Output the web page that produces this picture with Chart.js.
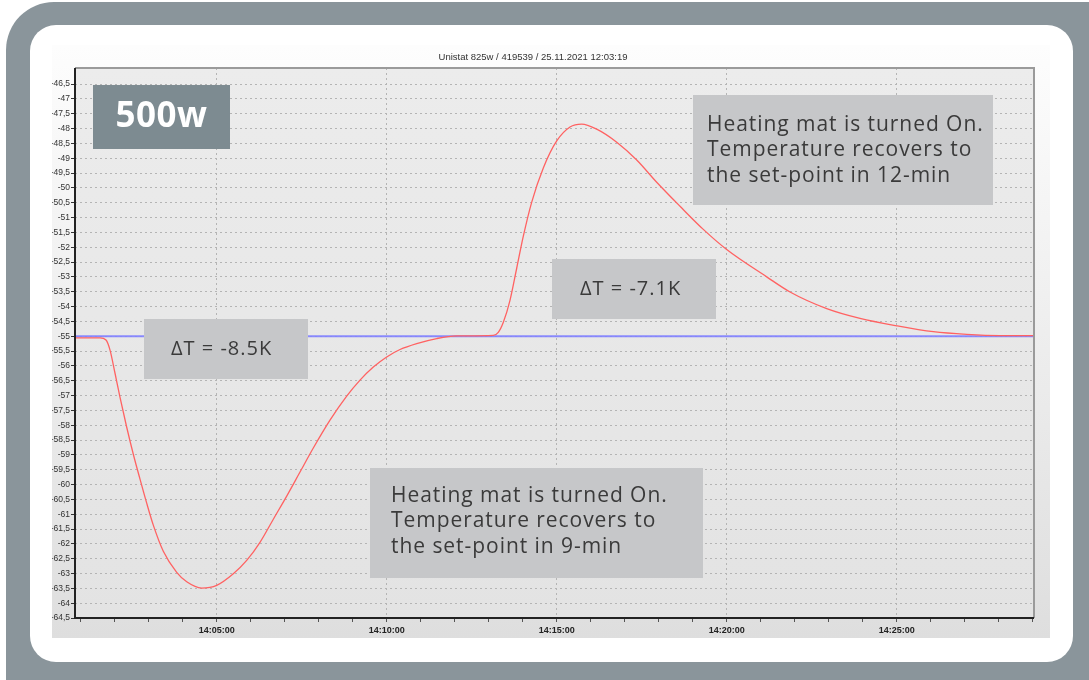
<!DOCTYPE html>
<html>
<head>
<meta charset="utf-8">
<script src="https://cdn.jsdelivr.net/npm/chart.js@4.4.1/dist/chart.umd.min.js"></script>
<style>
html,body{margin:0;padding:0;background:#fff;}
#wrap{position:relative;width:1089px;height:680px;}
</style>
</head>
<body>
<div id="wrap"><canvas id="c" width="1089" height="680"></canvas></div>
<script>
// ---- data (minutes after 14:00:00, temperature °C) ----
const titleText = "Unistat 825w / 419539 / 25.11.2021 12:03:19";
const timeMin = [0.833,1.569,1.745,1.863,2.010,2.157,2.354,2.548,2.745,2.942,3.136,3.430,3.824,4.119,4.560,5.001,5.489,5.883,6.274,6.666,7.060,7.451,7.842,8.333,8.824,9.216,9.607,10.001,10.392,10.883,11.471,12.060,13.136,13.283,13.431,13.627,13.824,14.019,14.266,14.607,15.001,15.392,15.736,16.177,16.766,17.354,17.942,18.627,19.313,19.981,21.177,21.863,22.942,23.922,25.001,26.077,27.059,28.039,29.039];
const tempC = [-55.06,-55.06,-55.13,-55.47,-56.25,-57.06,-58.07,-58.98,-59.82,-60.63,-61.37,-62.25,-62.96,-63.28,-63.49,-63.40,-63.01,-62.56,-61.95,-61.17,-60.39,-59.58,-58.77,-57.83,-57.02,-56.48,-56.04,-55.70,-55.45,-55.25,-55.08,-54.99,-54.97,-54.87,-54.53,-53.79,-52.71,-51.63,-50.48,-49.33,-48.42,-47.95,-47.85,-48.02,-48.46,-49.06,-49.81,-50.62,-51.40,-52.06,-53.00,-53.51,-54.07,-54.40,-54.65,-54.85,-54.94,-54.98,-54.98];
const setpointTime = [0.833, 29.039];
const setpointTemp = [-55, -55];
const xTickMinutes = [1,2,3,4,5,6,7,8,9,10,11,12,13,14,15,16,17,18,19,20,21,22,23,24,25,26,27,28,29];
const xLabelMinutes = [5,10,15,20,25];
const xLabels = ["14:05:00","14:10:00","14:15:00","14:20:00","14:25:00"];
const yTicks = [-64.5,-64,-63.5,-63,-62.5,-62,-61.5,-61,-60.5,-60,-59.5,-59,-58.5,-58,-57.5,-57,-56.5,-56,-55.5,-55,-54.5,-54,-53.5,-53,-52.5,-52,-51.5,-51,-50.5,-50,-49.5,-49,-48.5,-48,-47.5,-47,-46.5];
const badgeText = "500w";
const deltaTexts = ["\u0394T = -8.5K", "\u0394T = -7.1K"];
const noteUpper = ["Heating mat is turned On.", "Temperature recovers to", "the set-point in 12-min"];
const noteLower = ["Heating mat is turned On.", "Temperature recovers to", "the set-point in 9-min"];

function rr(ctx,x,y,w,h,r){ctx.beginPath();ctx.roundRect(x,y,w,h,r);}

const framePlugin = {
  id:'frame',
  beforeDraw(chart){
    const ctx = chart.ctx, a = chart.chartArea;
    ctx.save();
    ctx.fillStyle='#ffffff'; ctx.fillRect(0,0,1089,680);
    ctx.fillStyle='#8a959b'; rr(ctx,6,2,1140,740,48); ctx.fill();
    ctx.fillStyle='#ffffff'; rr(ctx,30,25,1043,637,26); ctx.fill();
    // chart panel
    let g = ctx.createLinearGradient(0,45,0,638);
    g.addColorStop(0,'#fdfdfd'); g.addColorStop(1,'#dedede');
    ctx.fillStyle=g; ctx.fillRect(52,45,998,593);
    // plot bg
    g = ctx.createLinearGradient(0,a.top,0,a.bottom);
    g.addColorStop(0,'#ececec'); g.addColorStop(1,'#e3e3e3');
    ctx.fillStyle=g; ctx.fillRect(a.left,a.top,a.right-a.left,a.bottom-a.top);
    ctx.restore();
  },
  afterDraw(chart){
    const ctx = chart.ctx, a = chart.chartArea;
    ctx.save();
    // axis frame
    ctx.lineWidth=2;
    ctx.strokeStyle='#9a9a9a';
    ctx.beginPath(); ctx.moveTo(a.left,a.top); ctx.lineTo(a.right,a.top); ctx.lineTo(a.right,a.bottom); ctx.stroke();
    ctx.strokeStyle='#222';
    ctx.beginPath(); ctx.moveTo(a.left,a.top); ctx.lineTo(a.left,a.bottom); ctx.lineTo(a.right,a.bottom); ctx.stroke();
    // title
    ctx.fillStyle='#333'; ctx.font='9.5px "Liberation Sans", Arial, sans-serif';
    ctx.textAlign='center'; ctx.textBaseline='middle';
    ctx.fillText(titleText,533,57);
    // badge
    ctx.fillStyle='#7d8b91'; ctx.fillRect(93,85,137,64);
    ctx.fillStyle='#ffffff'; ctx.font='bold 35px "Open Sans", sans-serif';
    ctx.letterSpacing='0.5px';
    ctx.textAlign='center'; ctx.fillText(badgeText,161.5,117);
    // boxes
    ctx.fillStyle='#c6c7c9';
    ctx.fillRect(144,319,164,60);
    ctx.fillRect(552,259,164,60);
    ctx.fillRect(693,95,300,110);
    ctx.fillRect(370,468,333,110);
    ctx.fillStyle='#3a3a3a'; ctx.font='20px "Open Sans", sans-serif';
    ctx.letterSpacing='1px';
    ctx.textAlign='left';
    ctx.fillText(deltaTexts[0],171,349);
    ctx.fillText(deltaTexts[1],580,289);
    ctx.font='21px "Open Sans", sans-serif';
    ctx.letterSpacing='0.95px';
    noteUpper.forEach((t,i)=>ctx.fillText(t,707,125+i*25.5));
    noteLower.forEach((t,i)=>ctx.fillText(t,391,496+i*25.5));
    ctx.restore();
  }
};

const fmtY = v => String(v).replace('.',',');

new Chart(document.getElementById('c'),{
  type:'line',
  data:{datasets:[
    {data:timeMin.map((t,i)=>({x:t,y:tempC[i]})),borderColor:'#ff6262',borderWidth:1.3,pointRadius:0,tension:0.4,cubicInterpolationMode:'monotone',fill:false},
    {data:setpointTime.map((t,i)=>({x:t,y:setpointTemp[i]})),borderColor:'rgba(128,128,255,0.9)',borderWidth:2,pointRadius:0,fill:false}
  ]},
  options:{
    responsive:false,animation:false,
    layout:{padding:{left:52,right:55,top:68,bottom:42}},
    plugins:{legend:{display:false},tooltip:{enabled:false},title:{display:false}},
    scales:{
      x:{type:'linear',min:0.833,max:29.039,
        afterBuildTicks:s=>{s.ticks=xTickMinutes.map(v=>({value:v}));},
        afterFit:s=>{s.height=20;},
        ticks:{autoSkip:false,maxRotation:0,padding:3,color:'#222',font:{family:'"Liberation Sans", Arial, sans-serif',size:9,weight:'bold'},
          callback:v=>{const k=xLabelMinutes.indexOf(v);return k>=0?xLabels[k]:'';}},
        grid:{color:c=>(c.tick && xLabelMinutes.indexOf(c.tick.value)>=0)?'#b4b4b4':'rgba(0,0,0,0)',lineWidth:1,tickColor:'#555',tickLength:4,drawTicks:true},
        border:{display:false,dash:[2,3]}
      },
      y:{min:-64.5,max:-45.96,
        afterBuildTicks:s=>{s.ticks=yTicks.map(v=>({value:v}));},
        afterFit:s=>{s.width=23;},
        ticks:{autoSkip:false,padding:1,color:'#333',font:{family:'"Liberation Sans", Arial, sans-serif',size:8.5},callback:v=>fmtY(v)},
        grid:{color:'#b4b4b4',lineWidth:1,tickColor:'#333',tickLength:4},
        border:{display:false,dash:[2,3]}
      }
    }
  },
  plugins:[framePlugin]
});
</script>
</body>
</html>
